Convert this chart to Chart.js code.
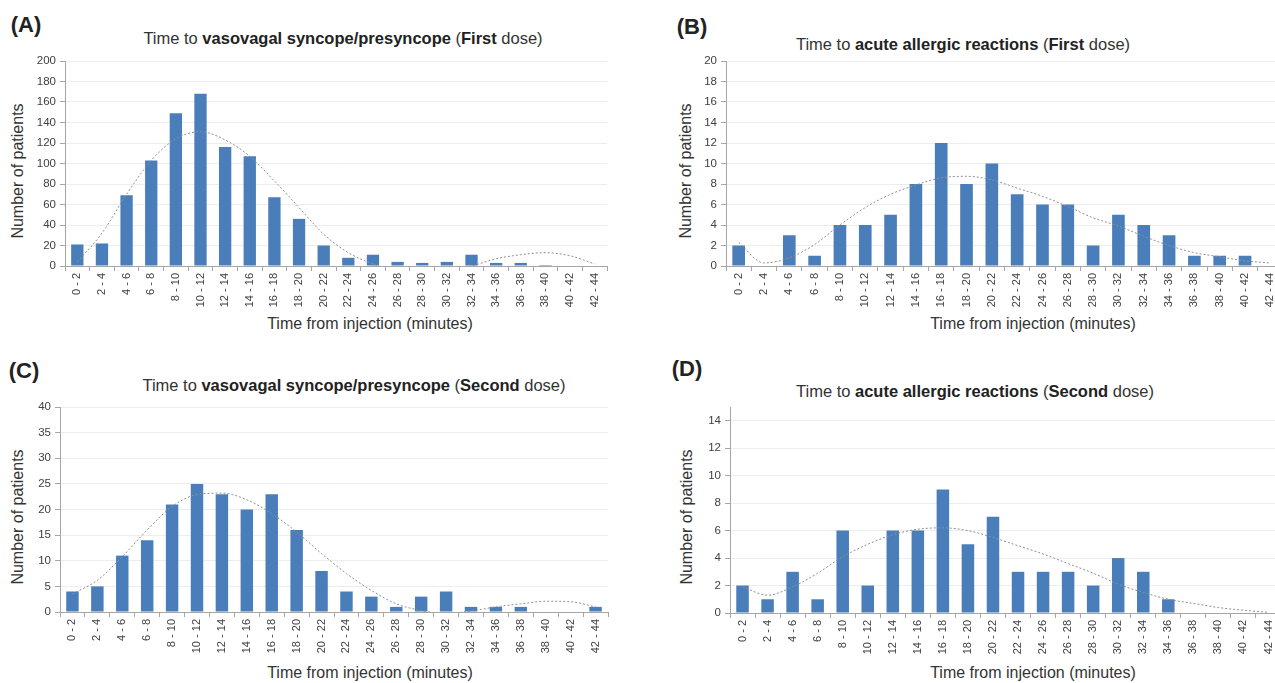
<!DOCTYPE html>
<html>
<head>
<meta charset="utf-8">
<script src="https://cdn.jsdelivr.net/npm/chart.js@4.4.1/dist/chart.umd.min.js"></script>
<style>
  body { margin: 0; width: 1275px; height: 683px; overflow: hidden; background: #fff; position: relative;
         font-family: "Liberation Sans", Arial, sans-serif; color: #333; }
  canvas { position: absolute; }
  .letter { position: absolute; font-weight: bold; font-size: 22px; color: #222; transform: translate(-50%, -50%); }
  .title, .xtitle, .ytitle { position: absolute; white-space: nowrap; font-size: 16px; color: #333; transform: translate(-50%, -50%); }
  .title { font-size: 16.5px; }
  .ytitle { transform: translate(-50%, -50%) rotate(-90deg); }
  .title b { color: #222; }
</style>
</head>
<body>

<div class="letter" style="left:26px; top:25px;">(A)</div>
<div class="title" style="left:343px; top:38px;">Time to <b>vasovagal syncope/presyncope</b> (<b>First</b> dose)</div>
<div class="ytitle" style="left:18px; top:171px;">Number of patients</div>
<div class="xtitle" style="left:370px; top:324px;">Time from injection (minutes)</div>
<canvas id="chartA" width="620" height="290" style="left:0; top:50px;"></canvas>

<div class="letter" style="left:692px; top:27px;">(B)</div>
<div class="title" style="left:963px; top:44px;">Time to <b>acute allergic reactions</b> (<b>First</b> dose)</div>
<div class="ytitle" style="left:686px; top:171px;">Number of patients</div>
<div class="xtitle" style="left:1033px; top:324px;">Time from injection (minutes)</div>
<canvas id="chartB" width="660" height="290" style="left:640px; top:50px;"></canvas>

<div class="letter" style="left:24px; top:371px;">(C)</div>
<div class="title" style="left:354px; top:385px;">Time to <b>vasovagal syncope/presyncope</b> (<b>Second</b> dose)</div>
<div class="ytitle" style="left:18px; top:517px;">Number of patients</div>
<div class="xtitle" style="left:370px; top:673px;">Time from injection (minutes)</div>
<canvas id="chartC" width="620" height="288" style="left:0; top:395px;"></canvas>

<div class="letter" style="left:687px; top:369px;">(D)</div>
<div class="title" style="left:975px; top:391px;">Time to <b>acute allergic reactions</b> (<b>Second</b> dose)</div>
<div class="ytitle" style="left:687px; top:517px;">Number of patients</div>
<div class="xtitle" style="left:1033px; top:673px;">Time from injection (minutes)</div>
<canvas id="chartD" width="660" height="288" style="left:640px; top:395px;"></canvas>

<script>
// time bins (minutes after injection)
const timeBins = ['0 - 2', '2 - 4', '4 - 6', '6 - 8', '8 - 10', '10 - 12', '12 - 14', '14 - 16',
    '16 - 18', '18 - 20', '20 - 22', '22 - 24', '24 - 26', '26 - 28', '28 - 30', '30 - 32',
    '32 - 34', '34 - 36', '36 - 38', '38 - 40', '40 - 42', '42 - 44'];

// (A) vasovagal syncope/presyncope, first dose
const syncopeFirst = [21, 22, 69, 103, 149, 168, 116, 107, 67, 46, 20, 8, 11, 4, 3, 4, 11, 3, 3, 1, 0, 0];
const syncopeFirstTrend = [4, 32, 70, 103, 124, 131, 123, 107, 83, 57, 31, 13, 2, -5, -8, -5, 0, 7, 11, 13, 10, 2];

// (B) acute allergic reactions, first dose
const allergyFirst = [2, 0, 3, 1, 4, 4, 5, 8, 12, 8, 10, 7, 6, 6, 2, 5, 4, 3, 1, 1, 1, 0];
const allergyFirstTrend = [2.3, 0.3, 0.8, 2.1, 4.0, 5.7, 7.0, 7.9, 8.6, 8.75, 8.4, 7.6, 6.8, 5.8, 4.7, 3.9, 2.9, 2.0, 1.3, 0.9, 0.5, 0.3];

// (C) vasovagal syncope/presyncope, second dose
const syncopeSecond = [4, 5, 11, 14, 21, 25, 23, 20, 23, 16, 8, 4, 3, 1, 3, 4, 1, 1, 1, 0, 0, 1];
const syncopeSecondTrend = [3.5, 6.2, 10.8, 16, 20.6, 22.9, 23.2, 21.9, 19.2, 15.6, 11.4, 7.5, 4.2, 1.6, 0.3, -0.3, 0.2, 1, 1.6, 2.1, 2.0, 1.0];

// (D) acute allergic reactions, second dose
const allergySecond = [2, 1, 3, 1, 6, 2, 6, 6, 9, 5, 7, 3, 3, 3, 2, 4, 3, 1, 0, 0, 0, 0];
const allergySecondTrend = [1.9, 1.3, 1.9, 2.9, 4.1, 5.0, 5.7, 6.1, 6.2, 6.0, 5.5, 4.9, 4.3, 3.6, 2.9, 2.1, 1.5, 1.0, 0.7, 0.4, 0.2, 0.05];

const FONT = '"Liberation Sans", Arial, sans-serif';
const BAR_COLOR = '#4a7ebb';
const AXIS_COLOR = '#a6a6a6';

function makeChart(id, values, trend, yMax, yStep, axisWidth, xHeight, padding) {
    return new Chart(document.getElementById(id), {
        type: 'bar',
        data: {
            labels: timeBins,
            datasets: [{
                type: 'line',
                data: trend,
                borderColor: '#8f8f8f',
                borderWidth: 1,
                borderDash: [2, 2],
                pointRadius: 0,
                cubicInterpolationMode: 'monotone',
                fill: false,
                order: 0
            }, {
                data: values,
                backgroundColor: BAR_COLOR,
                barPercentage: 0.5,
                categoryPercentage: 1,
                order: 1
            }]
        },
        options: {
            responsive: false,
            animation: false,
            layout: { padding: padding },
            plugins: {
                legend: { display: false },
                tooltip: { enabled: false }
            },
            scales: {
                x: {
                    grid: { drawOnChartArea: false, tickLength: 5, tickColor: AXIS_COLOR, offset: true },
                    border: { color: AXIS_COLOR },
                    ticks: {
                        minRotation: 90, maxRotation: 90, autoSkip: false, padding: 2,
                        color: '#404040', font: { family: FONT, size: 11 }
                    },
                    afterFit: (scale) => { scale.height = xHeight; }
                },
                y: {
                    min: 0,
                    max: yMax,
                    grid: { color: '#ededed', tickColor: AXIS_COLOR, tickLength: 5 },
                    border: { color: AXIS_COLOR },
                    ticks: { stepSize: yStep, padding: 4, color: '#404040', font: { family: FONT, size: 11.5 } },
                    afterBuildTicks: (scale) => {
                        scale.ticks = scale.ticks.filter(t => t.value % yStep === 0);
                    },
                    afterFit: (scale) => { scale.width = axisWidth; }
                }
            }
        }
    });
}

makeChart('chartA', syncopeFirst, syncopeFirstTrend, 200, 20, 65, 74, { top: 11, right: 13, left: 0, bottom: 0 });
makeChart('chartB', allergyFirst, allergyFirstTrend, 20, 2, 86, 74, { top: 11, right: 17, left: 0, bottom: 0 });
makeChart('chartC', syncopeSecond, syncopeSecondTrend, 40, 5, 60, 71, { top: 12, right: 12, left: 0, bottom: 0 });
makeChart('chartD', allergySecond, allergySecondTrend, 15, 2, 90, 70, { top: 12, right: 19, left: 0, bottom: 0 });
</script>
</body>
</html>
